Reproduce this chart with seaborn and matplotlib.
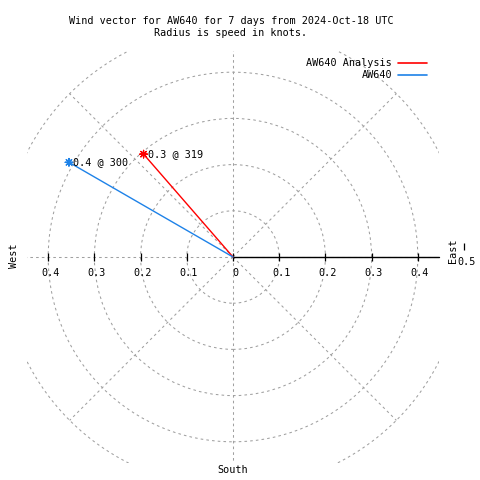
import numpy as np
import pandas as pd
import matplotlib as mpl
mpl.use("Agg")
import matplotlib.pyplot as plt
from matplotlib.patches import Circle, Rectangle
from matplotlib.lines import Line2D
import seaborn as sns

# data
series = ["AW640 Analysis", "AW640"]
speed = [0.295, 0.41]          # knots
direction = [319, 300]         # degrees (compass)
colors = ["#ff0000", "#1e82e8"]

rings = [0.1, 0.2, 0.3, 0.4, 0.5]
spokes = [0, 45, 90, 135, 180, 225, 270, 315]
tick_vals = [-0.4, -0.3, -0.2, -0.1, 0.0, 0.1, 0.2, 0.3, 0.4]
tick_labels = ["0.4", "0.3", "0.2", "0.1", "0", "0.1", "0.2", "0.3", "0.4"]

title = "Wind vector for AW640 for 7 days from 2024-Oct-18 UTC\nRadius is speed in knots."

sns.set_style("white")
plt.rcParams["font.family"] = ["DejaVu Sans Mono"]
plt.rcParams["font.size"] = 7.3
plt.rcParams["text.color"] = "black"

W = 480
S = 462.0           # pixels per knot
CX, CY = 233.0, 257.0
BOX = 0.445


def px(x, y):
    return (x - CX) / S, (CY - y) / S


fig = plt.figure(figsize=(4.8, 4.8), dpi=100)
ax = fig.add_axes([0, 0, 1, 1])
ax.set_xlim(-CX / S, (W - CX) / S)
ax.set_ylim(-(W - CY) / S, CY / S)
ax.set_axis_off()

clip = Rectangle((-BOX, -BOX), 2 * BOX, 2 * BOX, transform=ax.transData,
                 fill=False, visible=False)
ax.add_patch(clip)

grid_kw = dict(color="#a0a0a0", lw=0.75, linestyle=(0, (2.5, 3)))
for r in rings:
    c = Circle((0, 0), r, fill=False, **grid_kw)
    ax.add_patch(c)
    c.set_clip_path(clip)
for a in spokes:
    t = np.deg2rad(a)
    ln, = ax.plot([0, 0.5 * np.cos(t)], [0, 0.5 * np.sin(t)], **grid_kw)
    ln.set_clip_path(clip)

# axis on the east side
ax.plot([0, BOX], [0, 0], color="black", lw=1)
ax.vlines(tick_vals, -4 / S, 4 / S, color="black", lw=0.9)
for v, lab in zip(tick_vals, tick_labels):
    ax.text(v + 2 / S, -15.5 / S, lab, ha="center", va="center")
ax.vlines([231 / S], 7 / S, 14 / S, color="black", lw=0.9)
ax.text(*px(467, 262), "0.5", ha="center", va="center")

# compass labels
ax.text(*px(14, 256), "West", rotation=90, ha="center", va="center")
ax.text(*px(453, 251), "East", rotation=90, ha="center", va="center")
ax.text(*px(233, 470), "South", ha="center", va="center")

# wind vectors
d = np.deg2rad(direction)
ex = np.array(speed) * np.sin(d)
ey = np.array(speed) * np.cos(d)
rows = []
for name, x, y in zip(series, ex, ey):
    rows.append({"series": name, "x": 0.0, "y": 0.0, "step": 0})
    rows.append({"series": name, "x": x, "y": y, "step": 1})
df = pd.DataFrame(rows)
sns.lineplot(data=df, x="x", y="y", hue="series", palette=colors,
             sort=False, estimator=None, lw=1, legend=False, ax=ax)
end = df[df["step"] == 1]
sns.scatterplot(data=end, x="x", y="y", hue="series", palette=colors,
                marker=(8, 2, 0), s=30, linewidth=0.9, legend=False, ax=ax)
for name, x, y, s, dr in zip(series, ex, ey, speed, direction):
    ax.annotate(f"{s:.1f} @ {dr}", (x, y), xytext=(3.0, 0),
                textcoords="offset points", ha="left", va="center")

# legend (gnuplot style: right-aligned text, sample on the right)
for i, (name, col) in enumerate(zip(series, colors)):
    yy = 63 + 12 * i
    fig.text(392 / W, 1 - yy / W, name, ha="right", va="center")
    fig.add_artist(Line2D([398 / W, 427 / W], [1 - yy / W, 1 - yy / W],
                          color=col, lw=1.2, transform=fig.transFigure))

fig.text(231 / W, 1 - 26.5 / W, title, ha="center", va="center",
         linespacing=1.25)

fig.savefig("out.png", dpi=100)
